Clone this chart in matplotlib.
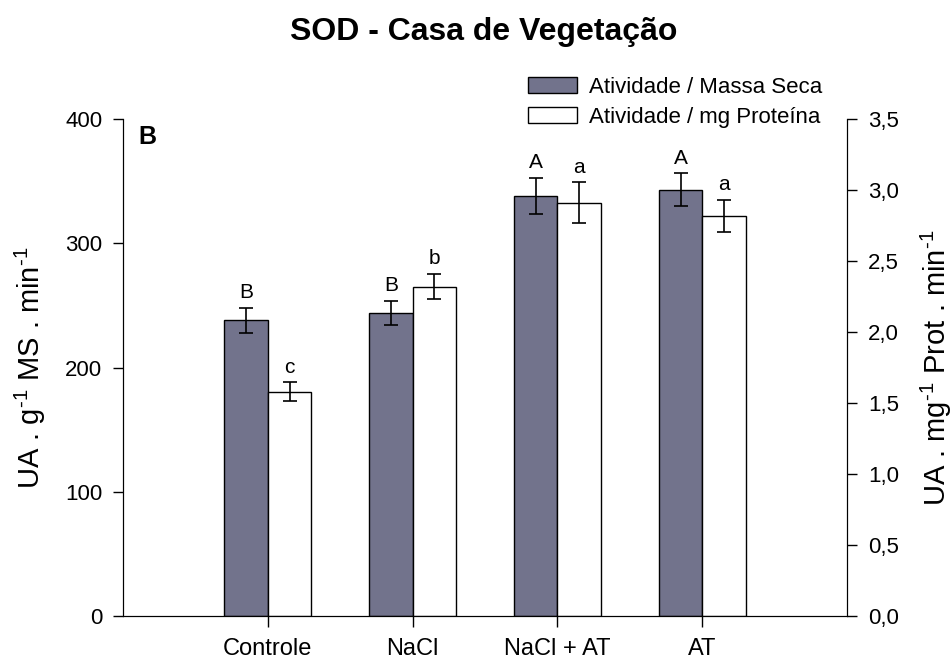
import matplotlib
matplotlib.use("Agg")
import matplotlib.pyplot as plt
from matplotlib.patches import Patch
import numpy as np

plt.rcParams['font.family'] = ['Liberation Sans', 'DejaVu Sans']
plt.rcParams['mathtext.fontset'] = 'custom'
plt.rcParams['mathtext.rm'] = 'Liberation Sans'
plt.rcParams['mathtext.it'] = 'Liberation Sans:italic'

# tratamentos
tratamentos = ['Controle', 'NaCl', 'NaCl + AT', 'AT']

# atividade por massa seca (UA . g-1 MS . min-1)
ms_media = [238, 244, 338, 343]
ms_erro = [10, 9.5, 14.5, 13.3]
ms_letras = ['B', 'B', 'A', 'A']

# atividade por mg de proteina (UA . mg-1 Prot . min-1)
prot_media = [1.58, 2.32, 2.91, 2.82]
prot_erro = [0.067, 0.09, 0.144, 0.113]
prot_letras = ['c', 'b', 'a', 'a']

cor_escura = '#72738c'
largura = 0.30

fig = plt.figure(figsize=(9.53, 6.63), dpi=100)
ax = fig.add_axes([0.1291, 0.0709, 0.7597, 0.7496])
ax2 = ax.twinx()

x = np.arange(len(tratamentos))

ax.bar(x - largura / 2, ms_media, largura, color=cor_escura, edgecolor='black', linewidth=1.0)
ax.errorbar(x - largura / 2, ms_media, yerr=ms_erro, fmt='none', ecolor='black',
            elinewidth=1.2, capsize=5, capthick=1.2)
ax2.bar(x + largura / 2, prot_media, largura, color='white', edgecolor='black', linewidth=1.0)
ax2.errorbar(x + largura / 2, prot_media, yerr=prot_erro, fmt='none', ecolor='black',
             elinewidth=1.2, capsize=5, capthick=1.2)

# letras das comparacoes de medias
for xi, m, e, l in zip(x, ms_media, ms_erro, ms_letras):
    ax.annotate(l, (xi - largura / 2, m + e), xytext=(0, 4), textcoords='offset points',
                ha='center', va='bottom', fontsize=15)
for xi, m, e, l in zip(x, prot_media, prot_erro, prot_letras):
    ax2.annotate(l, (xi + largura / 2, m + e), xytext=(0, 4), textcoords='offset points',
                 ha='center', va='bottom', fontsize=15)

ax.set_xlim(-1, 4)
ax.set_ylim(0, 400)
ax2.set_ylim(0, 3.5)
ax.set_yticks([0, 100, 200, 300, 400])
ax2.set_yticks(np.arange(0, 3.51, 0.5))
ax2.set_yticklabels([f'{v:.1f}'.replace('.', ',') for v in np.arange(0, 3.51, 0.5)])
ax.set_xticks(x)
ax.set_xticklabels(tratamentos, fontsize=17)

for a in (ax, ax2):
    a.spines['top'].set_visible(False)
    a.tick_params(axis='y', direction='out', length=7, width=1.0, labelsize=16, pad=8)
ax.tick_params(axis='x', direction='out', length=8, width=1.0, pad=8)

ax.set_ylabel('UA . g$^{‐1}$ MS . min$^{‐1}$', fontsize=21, labelpad=12)
ax2.set_ylabel('UA . mg$^{‐1}$ Prot . min$^{‐1}$', fontsize=21, labelpad=14)

ax.text(0.021, 0.988, 'B', transform=ax.transAxes, fontsize=18, fontweight='bold',
        ha='left', va='top')

fig.suptitle('SOD - Casa de Vegetação', x=0.508, y=0.975, fontsize=23, fontweight='bold')

handles = [Patch(facecolor=cor_escura, edgecolor='black', label='Atividade / Massa Seca'),
           Patch(facecolor='white', edgecolor='black', label='Atividade / mg Proteína')]
fig.legend(handles=handles, loc='upper left', bbox_to_anchor=(528 / 953, 1 - 77 / 663),
           frameon=False, fontsize=16, handlelength=2.2, handleheight=0.7,
           handletextpad=0.55, labelspacing=0.4, borderpad=0, borderaxespad=0)

fig.savefig('out.png', dpi=100)
